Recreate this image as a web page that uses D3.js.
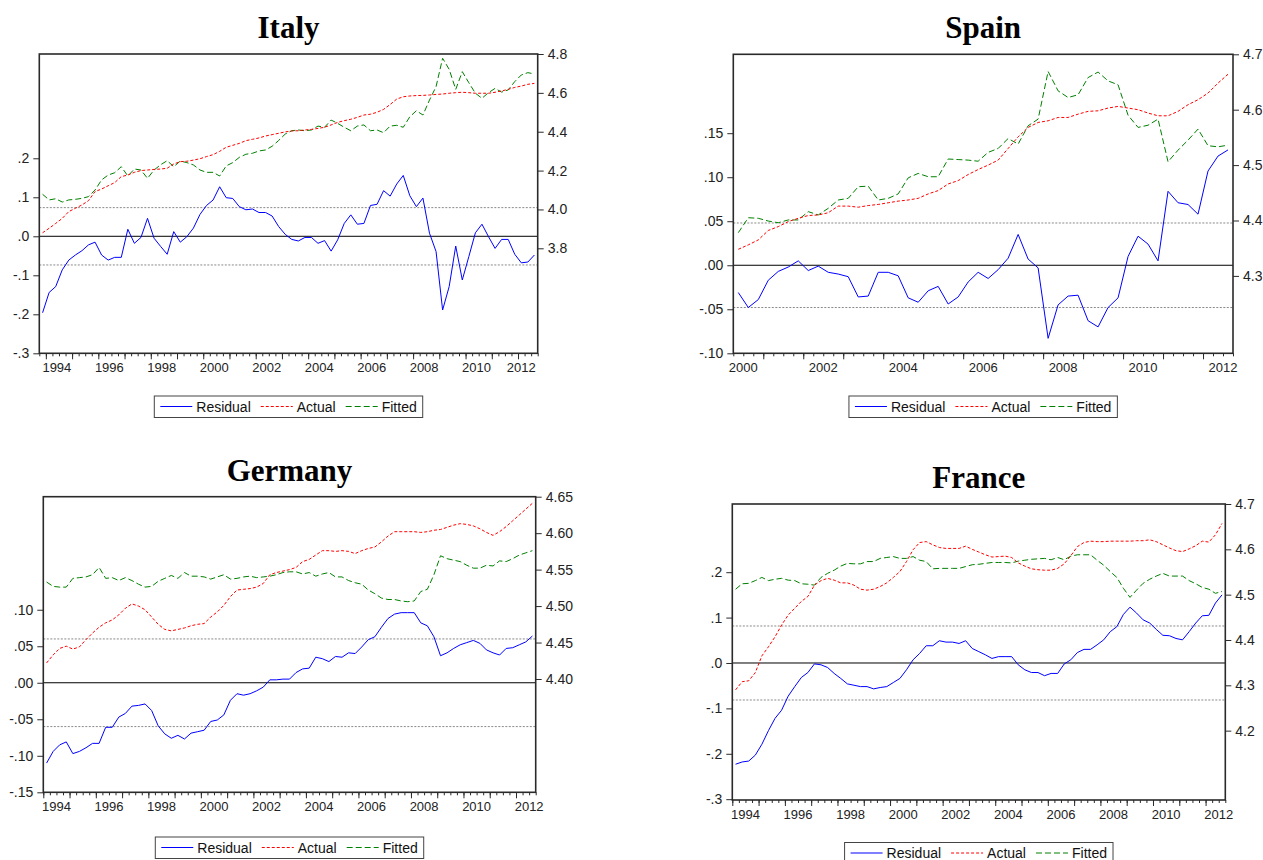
<!DOCTYPE html>
<html><head><meta charset="utf-8">
<script src="https://cdn.jsdelivr.net/npm/d3@7"></script>
<style>body{margin:0;background:#fff}svg{display:block}</style>
</head><body>
<svg id="chart" width="1263" height="860"></svg>
<script>
// ---------------- DATA ----------------
const seriesNames = ["Residual", "Actual", "Fitted"];

// Italy: quarterly 1993Q4 - 2012Q3
const italyStart = 1993.75;
const italyResidual = [-0.196,-0.144,-0.129,-0.086,-0.061,-0.048,-0.037,-0.022,-0.015,-0.048,
 -0.061,-0.054,-0.054,0.018,-0.018,-0.003,0.046,-0.005,-0.026,-0.046,
 0.012,-0.015,-0.001,0.021,0.056,0.079,0.093,0.127,0.099,0.097,
 0.076,0.068,0.070,0.061,0.061,0.052,0.025,0.005,-0.008,-0.012,
 -0.003,-0.003,-0.018,-0.011,-0.038,-0.009,0.033,0.055,0.031,0.033,
 0.079,0.082,0.117,0.103,0.134,0.156,0.104,0.076,0.098,0.008,
 -0.039,-0.189,-0.129,-0.025,-0.112,-0.052,0.009,0.031,-0.001,-0.031,
 -0.008,-0.008,-0.046,-0.068,-0.066,-0.048];
const italyActual = [3.880,3.903,3.928,3.954,3.989,4.006,4.023,4.045,4.092,4.105,
 4.122,4.138,4.169,4.177,4.191,4.200,4.203,4.206,4.208,4.212,
 4.234,4.246,4.248,4.254,4.261,4.272,4.282,4.299,4.320,4.330,
 4.340,4.354,4.361,4.368,4.378,4.385,4.392,4.399,4.404,4.405,
 4.409,4.412,4.417,4.423,4.435,4.448,4.457,4.464,4.474,4.486,
 4.490,4.500,4.515,4.540,4.568,4.580,4.584,4.586,4.587,4.589,
 4.592,4.594,4.598,4.601,4.603,4.601,4.598,4.598,4.598,4.603,
 4.610,4.618,4.628,4.635,4.644,4.649];
const italyFitted = [4.078,4.049,4.055,4.038,4.049,4.052,4.057,4.066,4.100,4.152,
 4.177,4.189,4.220,4.172,4.208,4.203,4.160,4.203,4.230,4.251,
 4.220,4.249,4.241,4.229,4.203,4.191,4.191,4.172,4.224,4.241,
 4.268,4.284,4.289,4.301,4.306,4.325,4.355,4.388,4.405,4.409,
 4.405,4.409,4.429,4.423,4.460,4.443,4.423,4.405,4.429,4.435,
 4.405,4.409,4.395,4.429,4.433,4.423,4.477,4.508,4.486,4.563,
 4.632,4.778,4.721,4.618,4.709,4.652,4.598,4.572,4.601,4.623,
 4.604,4.615,4.658,4.692,4.704,4.697];
const italyLeftTicks = [-0.3,-0.2,-0.1,0,0.1,0.2];
const italyRightTicks = [3.8,4.0,4.2,4.4,4.6,4.8];
const italyYearLabels = [1994,1996,1998,2000,2002,2004,2006,2008,2010,2012];
const italySd = 0.0735;

// Spain: quarterly 2000Q2 - 2012Q3
const spainStart = 2000.25;
const spainResidual = [-0.031,-0.048,-0.039,-0.017,-0.007,-0.002,0.005,-0.006,-0.001,-0.008,
 -0.010,-0.013,-0.036,-0.035,-0.008,-0.008,-0.012,-0.037,-0.042,-0.029,
 -0.024,-0.044,-0.036,-0.019,-0.008,-0.015,-0.005,0.008,0.035,0.007,
 -0.003,-0.083,-0.045,-0.035,-0.034,-0.063,-0.070,-0.048,-0.037,0.010,
 0.033,0.024,0.005,0.084,0.071,0.069,0.058,0.107,0.124,0.131];
const spainActual = [4.348,4.356,4.365,4.382,4.389,4.398,4.404,4.409,4.410,4.414,
 4.426,4.426,4.424,4.427,4.429,4.432,4.435,4.437,4.440,4.448,
 4.454,4.466,4.472,4.483,4.492,4.500,4.509,4.530,4.551,4.568,
 4.577,4.580,4.586,4.586,4.592,4.597,4.598,4.603,4.606,4.603,
 4.600,4.594,4.589,4.589,4.597,4.609,4.618,4.630,4.648,4.664];
const spainFitted = [4.378,4.405,4.404,4.399,4.396,4.401,4.401,4.416,4.410,4.422,
 4.437,4.440,4.461,4.462,4.437,4.440,4.448,4.477,4.485,4.479,
 4.479,4.511,4.510,4.509,4.507,4.523,4.530,4.548,4.538,4.571,
 4.583,4.669,4.634,4.622,4.627,4.658,4.668,4.652,4.645,4.590,
 4.568,4.572,4.583,4.506,4.527,4.545,4.565,4.535,4.533,4.536];
const spainLeftTicks = [-0.10,-0.05,0,0.05,0.10,0.15];
const spainRightTicks = [4.3,4.4,4.5,4.6,4.7];
const spainYearLabels = [2000,2002,2004,2006,2008,2010,2012];
const spainSd = 0.048;

// Germany: quarterly 1994Q1 - 2012Q3
const germanyStart = 1994.0;
const germanyResidual = [-0.110,-0.094,-0.085,-0.081,-0.097,-0.094,-0.089,-0.083,-0.083,-0.061,
 -0.061,-0.047,-0.042,-0.032,-0.031,-0.029,-0.038,-0.059,-0.070,-0.076,
 -0.072,-0.077,-0.069,-0.067,-0.065,-0.053,-0.051,-0.044,-0.024,-0.015,
 -0.017,-0.015,-0.011,-0.006,0.004,0.004,0.005,0.005,0.014,0.019,
 0.020,0.035,0.033,0.029,0.036,0.035,0.041,0.040,0.049,0.059,
 0.063,0.076,0.088,0.094,0.096,0.096,0.096,0.082,0.078,0.063,
 0.037,0.041,0.047,0.052,0.055,0.058,0.054,0.045,0.041,0.038,
 0.047,0.048,0.052,0.056,0.064];
const germanyActual = [4.422,4.433,4.442,4.445,4.441,4.444,4.454,4.463,4.471,4.477,
 4.481,4.488,4.497,4.503,4.500,4.495,4.485,4.475,4.468,4.466,
 4.468,4.470,4.473,4.475,4.476,4.485,4.492,4.501,4.513,4.522,
 4.523,4.524,4.526,4.531,4.543,4.546,4.548,4.550,4.553,4.561,
 4.564,4.570,4.576,4.576,4.575,4.576,4.575,4.572,4.576,4.579,
 4.581,4.588,4.596,4.602,4.602,4.602,4.602,4.601,4.602,4.604,
 4.605,4.608,4.611,4.613,4.612,4.610,4.606,4.601,4.597,4.602,
 4.609,4.617,4.625,4.633,4.641];
const germanyFitted = [4.533,4.527,4.526,4.526,4.538,4.539,4.540,4.543,4.553,4.538,
 4.539,4.535,4.539,4.535,4.530,4.526,4.527,4.534,4.538,4.542,
 4.538,4.546,4.541,4.541,4.540,4.537,4.540,4.543,4.537,4.538,
 4.540,4.541,4.539,4.540,4.541,4.543,4.546,4.547,4.547,4.544,
 4.546,4.541,4.544,4.546,4.540,4.540,4.535,4.532,4.530,4.522,
 4.517,4.511,4.509,4.509,4.507,4.506,4.507,4.520,4.523,4.543,
 4.569,4.565,4.563,4.561,4.556,4.552,4.552,4.556,4.555,4.562,
 4.561,4.565,4.570,4.573,4.576];
const germanyLeftTicks = [-0.15,-0.10,-0.05,0,0.05,0.10];
const germanyRightTicks = [4.40,4.45,4.50,4.55,4.60,4.65];
const germanyYearLabels = [1994,1996,1998,2000,2002,2004,2006,2008,2010,2012];
const germanySd = 0.060;

// France: quarterly 1994Q1 - 2012Q3
const franceStart = 1994.0;
const franceResidual = [-0.223,-0.218,-0.216,-0.203,-0.179,-0.149,-0.122,-0.104,-0.073,-0.052,
 -0.032,-0.021,-0.002,-0.004,-0.010,-0.023,-0.034,-0.046,-0.049,-0.052,
 -0.052,-0.057,-0.054,-0.052,-0.043,-0.034,-0.015,0.007,0.021,0.038,
 0.038,0.049,0.046,0.046,0.043,0.049,0.032,0.025,0.018,0.010,
 0.014,0.014,0.014,-0.004,-0.015,-0.021,-0.021,-0.028,-0.023,-0.023,
 -0.002,0.007,0.023,0.030,0.030,0.040,0.051,0.069,0.080,0.107,
 0.123,0.110,0.095,0.088,0.074,0.061,0.060,0.054,0.051,0.069,
 0.088,0.104,0.105,0.132,0.150];
const franceActual = [4.290,4.308,4.310,4.328,4.365,4.385,4.407,4.433,4.455,4.470,
 4.485,4.496,4.521,4.531,4.536,4.532,4.526,4.526,4.521,4.512,
 4.510,4.512,4.518,4.526,4.538,4.551,4.573,4.599,4.615,4.617,
 4.610,4.604,4.602,4.602,4.602,4.607,4.600,4.594,4.588,4.583,
 4.584,4.585,4.582,4.570,4.563,4.557,4.555,4.554,4.554,4.558,
 4.568,4.586,4.606,4.615,4.618,4.617,4.617,4.618,4.618,4.618,
 4.618,4.619,4.619,4.621,4.617,4.610,4.603,4.597,4.595,4.601,
 4.608,4.618,4.616,4.632,4.657];
const franceFitted = [4.512,4.524,4.525,4.531,4.538,4.531,4.534,4.536,4.532,4.531,
 4.524,4.523,4.521,4.538,4.547,4.554,4.563,4.569,4.568,4.568,
 4.573,4.573,4.580,4.582,4.584,4.580,4.580,4.584,4.576,4.573,
 4.557,4.558,4.558,4.558,4.558,4.562,4.566,4.567,4.569,4.571,
 4.571,4.571,4.570,4.574,4.576,4.578,4.579,4.580,4.577,4.582,
 4.577,4.585,4.588,4.588,4.588,4.576,4.565,4.551,4.538,4.514,
 4.494,4.510,4.525,4.534,4.541,4.547,4.541,4.541,4.541,4.531,
 4.524,4.516,4.512,4.503,4.507];
const franceLeftTicks = [-0.3,-0.2,-0.1,0,0.1,0.2];
const franceRightTicks = [4.2,4.3,4.4,4.5,4.6,4.7];
const franceYearLabels = [1994,1996,1998,2000,2002,2004,2006,2008,2010,2012];
const franceSd = 0.0815;

// ---------------- DRAWING ----------------
const svg = d3.select("#chart");
const SANS = "'Liberation Sans', Arial, Helvetica, sans-serif";
const SERIF = "'Liberation Serif', 'Times New Roman', serif";

function fmtLeft(digits) {
  return v => (v < -1e-9 ? "-" : "") + Math.abs(v).toFixed(digits).replace(/^0/, "");
}
function fmtRight(digits) { return v => v.toFixed(digits); }

const seriesStyle = [
  { color: "#0000ff", dash: null },
  { color: "#ff0000", dash: "3,2" },
  { color: "#008000", dash: "6,3" }
];

const panels = [
  { title: "Italy", titleY: 38, left: 39.3, right: 537.7, top: 54, bottom: 353.3,
    start: italyStart, end: 2012.75, leftDomain: [-0.3, 0.4674], rightDomain: [3.2596, 4.8],
    leftTicks: italyLeftTicks, rightTicks: italyRightTicks, leftFmt: fmtLeft(1), rightFmt: fmtRight(1),
    years: italyYearLabels, labelShift: 0.42, clampLabels: true, sd: italySd, legendTop: 396,
    residual: italyResidual, actual: italyActual, fitted: italyFitted },
  { title: "Spain", titleY: 38, left: 733.3, right: 1233, top: 54.3, bottom: 353.3,
    start: spainStart, end: 2012.75, leftDomain: [-0.10, 0.2396], rightDomain: [4.1603, 4.7],
    leftTicks: spainLeftTicks, rightTicks: spainRightTicks, leftFmt: fmtLeft(2), rightFmt: fmtRight(1),
    years: spainYearLabels, labelShift: 0.5, clampLabels: false, sd: spainSd, legendTop: 396,
    residual: spainResidual, actual: spainActual, fitted: spainFitted },
  { title: "Germany", titleY: 481, left: 43.3, right: 535.7, top: 496.7, bottom: 792.3,
    start: germanyStart, end: 2012.75, leftDomain: [-0.15, 0.2548], rightDomain: [4.2446, 4.65],
    leftTicks: germanyLeftTicks, rightTicks: germanyRightTicks, leftFmt: fmtLeft(2), rightFmt: fmtRight(2),
    years: germanyYearLabels, labelShift: 0.5, clampLabels: false, sd: germanySd, legendTop: 837,
    residual: germanyResidual, actual: germanyActual, fitted: germanyFitted },
  { title: "France", titleY: 488, left: 732.3, right: 1225.3, top: 504, bottom: 800,
    start: franceStart, end: 2012.75, leftDomain: [-0.3018, 0.3502], rightDomain: [4.047, 4.7],
    leftTicks: franceLeftTicks, rightTicks: franceRightTicks, leftFmt: fmtLeft(1), rightFmt: fmtRight(1),
    years: franceYearLabels, labelShift: 0.5, clampLabels: false, sd: franceSd, legendTop: 842.5,
    residual: franceResidual, actual: franceActual, fitted: franceFitted }
];

function drawPanel(p) {
  const g = svg.append("g");
  const x = d3.scaleLinear().domain([p.start, p.end]).range([p.left, p.right]);
  const yL = d3.scaleLinear().domain(p.leftDomain).range([p.bottom, p.top]);
  const yR = d3.scaleLinear().domain(p.rightDomain).range([p.bottom, p.top]);
  const t = i => p.start + (i + 0.5) / 4;

  g.append("text")
    .attr("x", (p.left + p.right) / 2).attr("y", p.titleY)
    .attr("text-anchor", "middle").attr("font-family", SERIF)
    .attr("font-weight", "bold").attr("font-size", 31).attr("fill", "#000")
    .text(p.title);

  [p.sd, -p.sd].forEach(v => {
    g.append("line").attr("x1", p.left).attr("x2", p.right)
      .attr("y1", yL(v)).attr("y2", yL(v))
      .attr("stroke", "#8a8a8a").attr("stroke-width", 1).attr("stroke-dasharray", "2,1.5");
  });
  g.append("line").attr("x1", p.left).attr("x2", p.right)
    .attr("y1", yL(0)).attr("y2", yL(0)).attr("stroke", "#000").attr("stroke-width", 1);

  const lineL = d3.line().x((d, i) => x(t(i))).y(d => yL(d));
  const lineR = d3.line().x((d, i) => x(t(i))).y(d => yR(d));

  g.append("path").datum(p.fitted).attr("d", lineR).attr("fill", "none")
    .attr("stroke", seriesStyle[2].color).attr("stroke-width", 1).attr("stroke-dasharray", seriesStyle[2].dash);
  g.append("path").datum(p.actual).attr("d", lineR).attr("fill", "none")
    .attr("stroke", seriesStyle[1].color).attr("stroke-width", 1).attr("stroke-dasharray", seriesStyle[1].dash);
  g.append("path").datum(p.residual).attr("d", lineL).attr("fill", "none")
    .attr("stroke", seriesStyle[0].color).attr("stroke-width", 1);

  g.append("rect").attr("x", p.left).attr("y", p.top)
    .attr("width", p.right - p.left).attr("height", p.bottom - p.top)
    .attr("fill", "none").attr("stroke", "#2a2a2a").attr("stroke-width", 1.6);

  const gl = g.append("g").attr("transform", `translate(${p.left},0)`)
    .call(d3.axisLeft(yL).tickValues(p.leftTicks).tickFormat(p.leftFmt).tickSize(6).tickPadding(4));
  gl.select(".domain").remove();
  gl.attr("font-family", SANS).attr("font-size", 14);
  gl.selectAll("line").attr("stroke", "#2a2a2a");
  gl.selectAll("text").attr("fill", "#222");

  const gr = g.append("g").attr("transform", `translate(${p.right},0)`)
    .call(d3.axisRight(yR).tickValues(p.rightTicks).tickFormat(p.rightFmt).tickSize(6).tickPadding(4));
  gr.select(".domain").remove();
  gr.attr("font-family", SANS).attr("font-size", 14);
  gr.selectAll("line").attr("stroke", "#2a2a2a");
  gr.selectAll("text").attr("fill", "#222");

  const quarters = d3.range(Math.round(p.start * 4), Math.round(p.end * 4) + 1).map(q => q / 4);
  const yearsTicks = quarters.filter(q => Number.isInteger(q));
  const gbm = g.append("g").attr("transform", `translate(0,${p.bottom})`)
    .call(d3.axisBottom(x).tickValues(quarters).tickSize(3).tickFormat(""));
  gbm.select(".domain").remove();
  gbm.selectAll("line").attr("stroke", "#2a2a2a");
  const gbM = g.append("g").attr("transform", `translate(0,${p.bottom})`)
    .call(d3.axisBottom(x).tickValues(yearsTicks).tickSize(6).tickFormat(""));
  gbM.select(".domain").remove();
  gbM.selectAll("line").attr("stroke", "#2a2a2a");

  const labels = g.selectAll(null).data(p.years).enter().append("text")
    .attr("x", d => x(d + p.labelShift)).attr("y", p.bottom + 19)
    .attr("text-anchor", "middle").attr("font-family", SANS).attr("font-size", 13).attr("fill", "#222")
    .text(d => String(d));
  if (p.clampLabels) {
    labels.each(function () {
      const w = this.getComputedTextLength();
      const cxv = +this.getAttribute("x");
      if (cxv + w / 2 > p.right - 2) this.setAttribute("x", p.right - 2 - w / 2);
    });
  }

  const lg = g.append("g");
  const lineLen = 32, pad = 6, boxH = 21.5;
  let cx = 0;
  seriesNames.forEach((name, k) => {
    const st = seriesStyle[k];
    lg.append("line").attr("x1", cx).attr("x2", cx + lineLen)
      .attr("y1", 10.5).attr("y2", 10.5).attr("stroke", st.color).attr("stroke-width", 1)
      .attr("stroke-dasharray", st.dash);
    const tx = lg.append("text").attr("x", cx + lineLen + 4).attr("y", 15.5)
      .attr("font-family", SANS).attr("font-size", 14).attr("fill", "#111").text(name);
    cx += lineLen + 4 + tx.node().getComputedTextLength() + (k < seriesNames.length - 1 ? 10 : 0);
  });
  const boxW = cx + 2 * pad;
  const bx = (p.left + p.right) / 2 - boxW / 2;
  lg.attr("transform", `translate(${bx + pad},${p.legendTop})`);
  lg.insert("rect", ":first-child").attr("x", -pad).attr("y", 0)
    .attr("width", boxW).attr("height", boxH)
    .attr("fill", "#fff").attr("stroke", "#444").attr("stroke-width", 1);
}

panels.forEach(drawPanel);
</script>
</body></html>
